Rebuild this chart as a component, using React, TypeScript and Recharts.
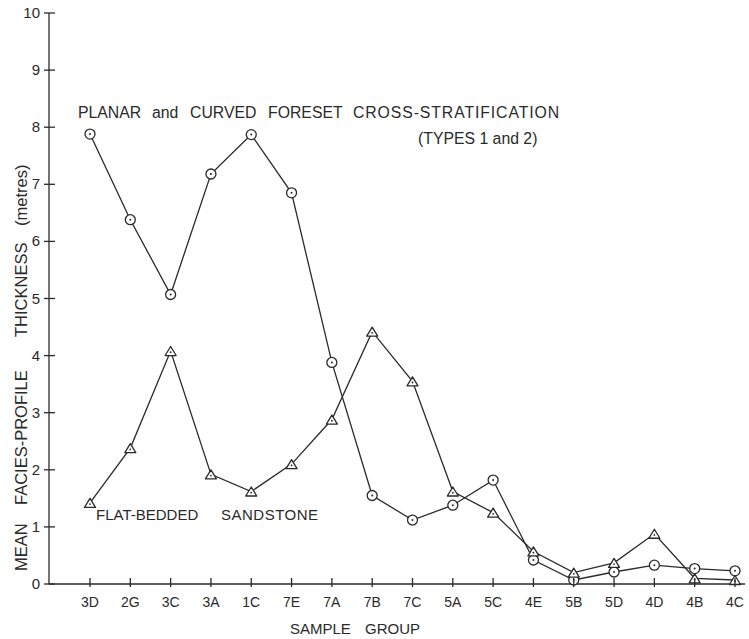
import React from 'react';
import { LineChart, Line, XAxis, YAxis, Customized } from 'recharts';

// Sample groups along the horizontal axis
const categories = ['3D', '2G', '3C', '3A', '1C', '7E', '7A', '7B', '7C', '5A', '5C', '4E', '5B', '5D', '4D', '4B', '4C'];

// Mean facies-profile thickness (metres), planar and curved foreset cross-stratification
const planarCurved = [7.88, 6.38, 5.07, 7.18, 7.87, 6.85, 3.88, 1.55, 1.12, 1.38, 1.82, 0.42, 0.07, 0.21, 0.33, 0.27, 0.23];

// Mean facies-profile thickness (metres), flat-bedded sandstone
const flatBedded = [1.42, 2.38, 4.08, 1.92, 1.62, 2.1, 2.88, 4.42, 3.55, 1.62, 1.25, 0.57, 0.2, 0.37, 0.88, 0.1, 0.07];

const yTicks = [0, 1, 2, 3, 4, 5, 6, 7, 8, 9, 10];

const data = categories.map((group, i) => ({
  group,
  planar: planarCurved[i],
  flat: flatBedded[i],
}));

const INK = '#2a2a2a';
const FONT = '"Liberation Sans", Arial, Helvetica, sans-serif';

const CircleDot = (props: any) => {
  const { cx, cy } = props;
  if (cx == null || cy == null) return null;
  return (
    <g>
      <circle cx={cx} cy={cy} r={5} fill="#fff" stroke={INK} strokeWidth={1.3} />
      <circle cx={cx} cy={cy} r={1} fill={INK} />
    </g>
  );
};

const TriangleDot = (props: any) => {
  const { cx, cy } = props;
  if (cx == null || cy == null) return null;
  const h = 9;
  const w = 11;
  const pts = `${cx - w / 2},${cy + h / 2} ${cx + w / 2},${cy + h / 2} ${cx},${cy - h / 2}`;
  return (
    <g>
      <polygon points={pts} fill="#fff" stroke={INK} strokeWidth={1.3} strokeLinejoin="round" />
      <circle cx={cx} cy={cy + 1.2} r={0.9} fill={INK} />
    </g>
  );
};

const YTick = (props: any) => {
  const { x, y, payload } = props;
  return (
    <g>
      <line x1={x - 5} x2={x + 6} y1={y} y2={y} stroke={INK} strokeWidth={1.3} />
      <text x={x - 9} y={y} dy={5} textAnchor="end" fontSize={15} fill={INK} fontFamily={FONT}>
        {payload.value}
      </text>
    </g>
  );
};

const XTick = (props: any) => {
  const { x, y, payload } = props;
  return (
    <g>
      <line x1={x} x2={x} y1={y - 6} y2={y + 3} stroke={INK} strokeWidth={1.3} />
      <text x={x} y={y} dy={23} textAnchor="middle" fontSize={14} fill={INK} fontFamily={FONT}>
        {payload.value}
      </text>
    </g>
  );
};

// Widely spaced captions, one word per text run
const Annotations = () => (
  <g fontFamily={FONT} fill={INK}>
    <g fontSize={15.8}>
      <text x={78} y={118}>PLANAR</text>
      <text x={152} y={118}>and</text>
      <text x={190} y={118}>CURVED</text>
      <text x={268} y={118}>FORESET</text>
      <text x={353} y={118} letterSpacing={0.9}>CROSS-STRATIFICATION</text>
      <text x={418} y={144}>(TYPES 1 and 2)</text>
    </g>
    <g fontSize={15}>
      <text x={96} y={520}>FLAT-BEDDED</text>
      <text x={221} y={520} letterSpacing={0.5}>SANDSTONE</text>
      <text x={290} y={634}>SAMPLE</text>
      <text x={365} y={634}>GROUP</text>
    </g>
    <g fontSize={16.5} transform="translate(27,0) rotate(-90)">
      <text x={-571} y={0}>MEAN</text>
      <text x={-505} y={0}>FACIES-PROFILE</text>
      <text x={-337} y={0}>THICKNESS</text>
      <text x={-226} y={0}>(metres)</text>
    </g>
  </g>
);

export default function App() {
  return (
    <div style={{ position: 'absolute', left: 0, top: 0, background: '#fff' }}>
      <LineChart
        width={749}
        height={639}
        data={data}
        margin={{ top: 13, right: 4, bottom: 0, left: 0 }}
      >
        <XAxis
          dataKey="group"
          type="category"
          padding={{ left: 41, right: 10 }}
          height={55}
          axisLine={{ stroke: INK, strokeWidth: 1.3 }}
          tickLine={false}
          tickSize={0}
          tickMargin={0}
          tick={<XTick />}
          interval={0}
        />
        <YAxis
          type="number"
          domain={[0, 10]}
          ticks={yTicks}
          width={49}
          axisLine={{ stroke: INK, strokeWidth: 1.3 }}
          tickLine={false}
          tickSize={0}
          tickMargin={0}
          tick={<YTick />}
          interval={0}
        />
        <Line
          dataKey="planar"
          type="linear"
          stroke={INK}
          strokeWidth={1.3}
          dot={<CircleDot />}
          activeDot={false}
          isAnimationActive={false}
        />
        <Line
          dataKey="flat"
          type="linear"
          stroke={INK}
          strokeWidth={1.3}
          dot={<TriangleDot />}
          activeDot={false}
          isAnimationActive={false}
        />
        <Customized component={Annotations} />
      </LineChart>
    </div>
  );
}
